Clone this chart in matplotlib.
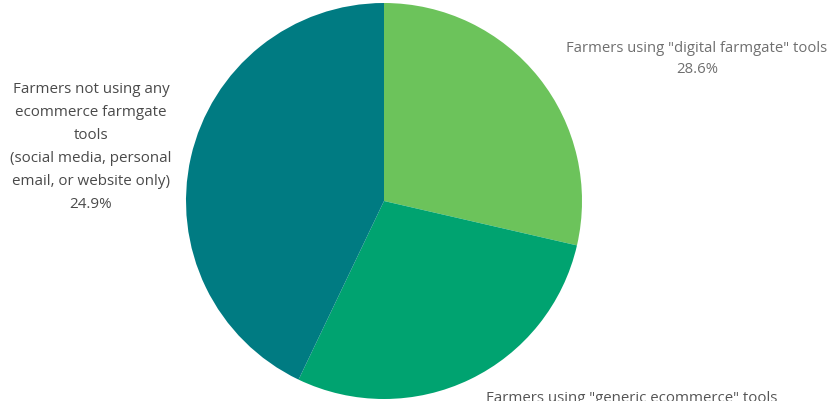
import matplotlib.pyplot as plt

# share of farmers by tool type (%)
categories = ['Farmers using "digital farmgate" tools',
              'Farmers using "generic ecommerce" tools',
              'Farmers not using any\necommerce farmgate\ntools\n(social media, personal\nemail, or website only)']
shares = [28.6, 28.5, 42.9]
pct_labels = ['28.6%', '', '24.9%']
colors = ['#6cc35b', '#00a370', '#007b82']

plt.rcParams['font.family'] = ['Open Sans', 'DejaVu Sans']

W, H = 839, 401
fig = plt.figure(figsize=(W / 100, H / 100), dpi=100)
cx, cy, r = 384, 200, 198
ax = fig.add_axes([(cx - r) / W, (cy - r) / H, 2 * r / W, 2 * r / H])
ax.pie(shares, colors=colors, startangle=90, counterclock=False, radius=1,
       wedgeprops=dict(linewidth=0))
ax.set_xlim(-1, 1)
ax.set_ylim(-1, 1)
ax.set_aspect('equal')
ax.axis('off')

# slice labels
fig.text(697 / W, 1 - 59 / H, categories[0] + '\n' + pct_labels[0], ha='center', va='center',
         fontsize=10.7, color='#6f6f6f', linespacing=1.6)
fig.text(632 / W, 1 - 399 / H, categories[1], ha='center', va='center',
         fontsize=10.8, color='#555555')
fig.text(91 / W, 1 - 147 / H, categories[2] + '\n' + pct_labels[2], ha='center', va='center',
         fontsize=10.9, color='#4a4a4a', linespacing=1.72)

fig.savefig('out.png', dpi=100, facecolor='white')
